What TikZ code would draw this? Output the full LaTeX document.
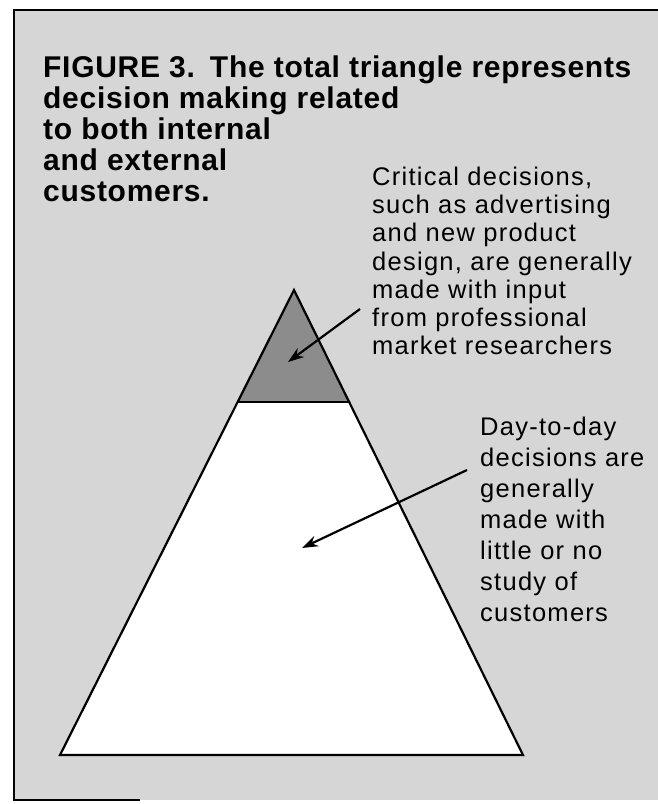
\documentclass[tikz,border=0pt]{standalone}
\usepackage{fontspec}
\setmainfont{Liberation Sans}
\newfontfamily\titlefont[LetterSpace=2.4]{Liberation Sans}
\newfontfamily\notefont[LetterSpace=5]{Liberation Sans}
\usetikzlibrary{arrows.meta}
\definecolor{paper}{RGB}{214,214,214}
\definecolor{tipshade}{RGB}{140,140,140}
\tikzset{
  edge/.style={line width=2.2pt, line join=miter},
  pointer/.style={line width=2.2pt, -{Stealth[length=16pt,width=11pt]}},
  titletext/.style={anchor=north west, inner sep=0pt, align=left,
    font=\titlefont\bfseries\fontsize{30}{31}\selectfont},
  notetext/.style={anchor=north west, inner sep=0pt, align=left,
    font=\notefont\fontsize{25.5}{28.3}\selectfont},
}
\begin{document}
\begin{tikzpicture}[x=1pt,y=-1pt]
\useasboundingbox (0,0) rectangle (658,804);
% page and frame
\fill[white] (0,0) rectangle (658,804);
\fill[paper] (14,10) rectangle (658,800);
\coordinate (ftl) at (14,10);
\coordinate (ftr) at (658,10);
\coordinate (fbl) at (14,800);
\coordinate (fbe) at (140,800);
\draw[line width=1.8pt] (ftr) -- (ftl) -- (fbl) -- (fbe);

% triangle corners
\coordinate (apex) at (294,290);
\coordinate (bl) at (60,755);
\coordinate (br) at (523,755);
\coordinate (cutl) at (237.6,402);
\coordinate (cutr) at (349.2,402);

\fill[white] (bl) -- (br) -- (apex) -- cycle;
\fill[tipshade] (apex) -- (cutl) -- (cutr) -- cycle;
\draw[edge] (bl) -- (br) -- (apex) -- cycle;
\draw[edge] (cutl) -- (cutr);

% caption
\node[titletext] (caption) at (43,55.5)
  {FIGURE 3.\hspace{3pt} The total triangle represents\\
   decision making related\\
   to both internal\\
   and external\\
   customers.};

% notes
\node[notetext] (critical) at (372,166.5)
  {Critical decisions,\\
   such as advertising\\
   and new product\\
   design, are generally\\
   made with input\\
   from professional\\
   market researchers};
\node[notetext, font=\notefont\fontsize{25.5}{31}\selectfont] (daily) at (480,416.5)
  {Day-to-day\\
   decisions are\\
   generally\\
   made with\\
   little or no\\
   study of\\
   customers};

% pointers
\coordinate (p1s) at (360,309);
\coordinate (p1e) at (288,362);
\coordinate (p2s) at (467,470);
\coordinate (p2e) at (302,548);
\draw[pointer] (p1s) -- (p1e);
\draw[pointer] (p2s) -- (p2e);
\end{tikzpicture}
\end{document}
